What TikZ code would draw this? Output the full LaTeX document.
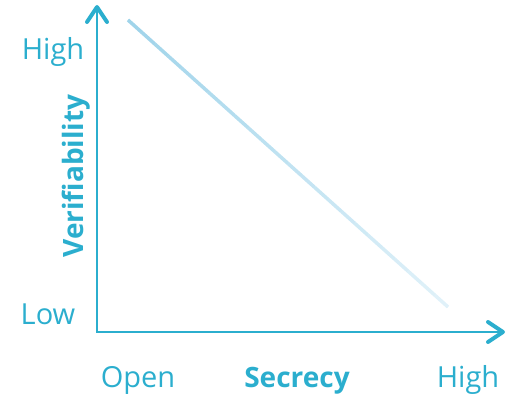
\documentclass[tikz,border=0pt]{standalone}
\usepackage{fontspec}
\setmainfont{Open Sans}
\usetikzlibrary{arrows.meta,calc}
\definecolor{axisblue}{RGB}{43,174,206}
\definecolor{linetop}{RGB}{160,212,234}
\definecolor{linebot}{RGB}{224,241,249}
\tikzset{>={Straight Barb[length=15pt, width=20pt, line width=4pt, round]}}

\begin{document}
\begin{tikzpicture}[x=1pt, y=1pt,
    axis/.style = {draw=axisblue, line width=2pt, <->},
    ticktext/.style = {text=axisblue, font=\fontsize{29}{29}\selectfont, anchor=base, inner sep=0pt},
    axistitle/.style = {ticktext, font=\fontsize{28}{28}\selectfont\bfseries}]
    \useasboundingbox (0,0) rectangle (508,395);
    \coordinate (origin) at (97,63);
    \coordinate (ytop) at (97,390);
    \coordinate (xend) at (505,63);
    \coordinate (A) at (128,375);
    \coordinate (B) at (448,88);
    \draw[axis] (ytop) -- (origin) -- (xend);
    % the falling line, two strands fading out
    \foreach \i in {0,...,23} {
        \pgfmathtruncatemacro\mix{100-100*\i/23}
        \draw[line width=3.5pt, linetop!\mix!linebot, xshift=1.1pt, yshift=1.2pt]
            ($(A)!{\i/24}!(B)$) -- ($(A)!{(\i+1)/24}!(B)$);
        \draw[line width=1.4pt, linetop!\mix!linebot, xshift=-2pt, yshift=-2.2pt]
            ($(A)!{\i/24}!(B)$) -- ($(A)!{(\i+1)/24}!(B)$);
    }
    \node[ticktext] (yhigh) at (53,335) {High};
    \node[ticktext] (ylow) at (48,70) {Low};
    \node[axistitle, rotate=90] (ytitle) at (83,219) {Verifiability};
    \node[ticktext] (xopen) at (138,7) {Open};
    \node[axistitle] (xtitle) at (297,7) {Secrecy};
    \node[ticktext] (xhigh) at (468,7) {High};
\end{tikzpicture}
\end{document}
